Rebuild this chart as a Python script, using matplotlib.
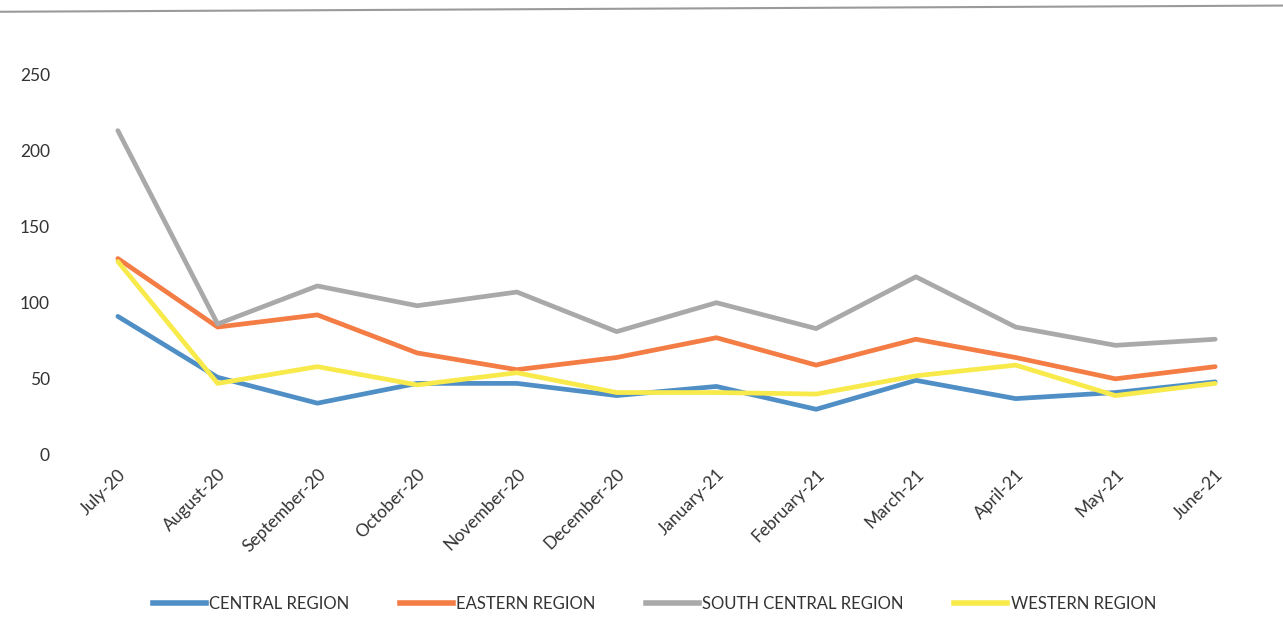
import matplotlib.pyplot as plt
from matplotlib.lines import Line2D

# Monthly figures per region, July 2020 to June 2021
months = ["July-20", "August-20", "September-20", "October-20", "November-20",
          "December-20", "January-21", "February-21", "March-21", "April-21",
          "May-21", "June-21"]
central = [91, 51, 34, 47, 47, 39, 45, 30, 49, 37, 41, 48]
eastern = [129, 84, 92, 67, 56, 64, 77, 59, 76, 64, 50, 58]
south_central = [213, 86, 111, 98, 107, 81, 100, 83, 117, 84, 72, 76]
western = [127, 47, 58, 46, 54, 41, 41, 40, 52, 59, 39, 47]

series = [
    ("CENTRAL REGION", central, "#4f8fc6"),
    ("EASTERN REGION", eastern, "#f47c45"),
    ("SOUTH CENTRAL REGION", south_central, "#a9a9a9"),
    ("WESTERN REGION", western, "#f7ea4a"),
]

plt.rcParams["font.family"] = ["Lato", "DejaVu Sans"]

fig = plt.figure(figsize=(12.83, 6.19), dpi=100)
ax = fig.add_axes([0.053, 0.265, 0.933, 0.615])

x = list(range(len(months)))
for name, values, color in series:
    ax.plot(x, values, color=color, lw=3.4, solid_capstyle="round", label=name)

ax.set_xlim(-0.5, len(months) - 0.5)
ax.set_ylim(0, 250)
ax.set_yticks([0, 50, 100, 150, 200, 250])
ax.set_xticks(x)
ax.set_xticklabels(months, rotation=45, ha="right", rotation_mode="anchor",
                   fontsize=12.5, color="#333333")
ax.tick_params(axis="y", labelsize=12.5, colors="#333333", length=0, pad=13)
ax.tick_params(axis="x", length=0, pad=8)
for spine in ax.spines.values():
    spine.set_visible(False)

# Legend with the series colours
handles = [Line2D([], [], color=c, lw=4) for _, _, c in series]
labels = [n for n, _, _ in series]
fig.legend(handles, labels, loc="center", bbox_to_anchor=(0.51, 0.025),
           ncol=4, frameon=False, fontsize=12, handlelength=3.2,
           columnspacing=3.0, handletextpad=0.2, labelcolor="#333333")

# Page edge line along the top
fig.add_artist(Line2D([0, 1], [0.981, 0.991], transform=fig.transFigure,
                      color="#9a9a9a", lw=1.5))

fig.savefig("out.png", dpi=100, facecolor="white")
